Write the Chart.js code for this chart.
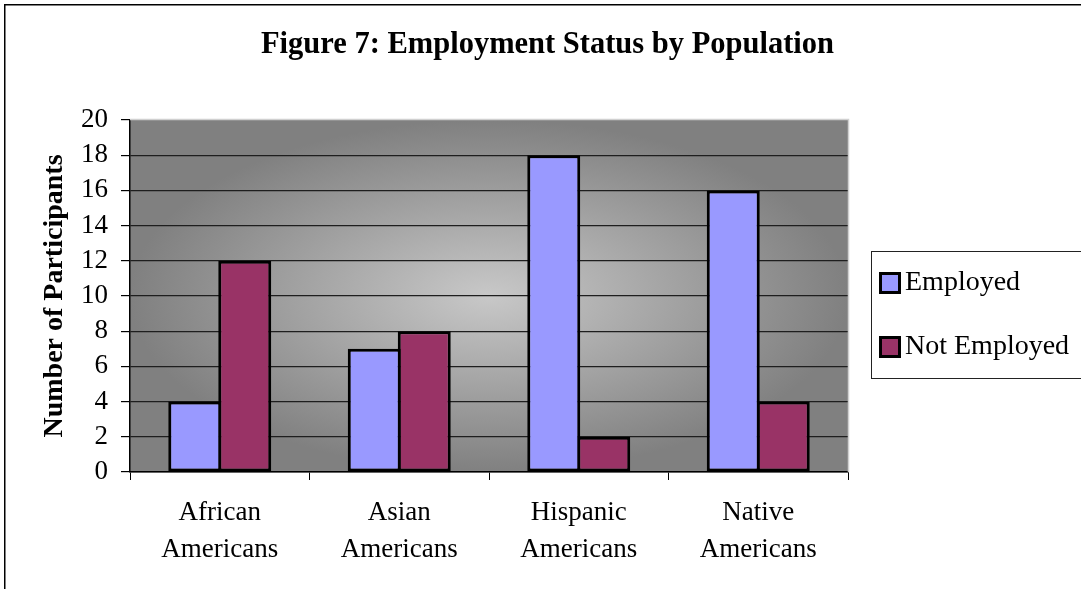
<!DOCTYPE html>
<html>
<head>
<meta charset="utf-8">
<title>Figure 7: Employment Status by Population</title>
<script src="https://cdn.jsdelivr.net/npm/chart.js@4.4.1/dist/chart.umd.min.js"></script>
<style>
  html, body { margin: 0; padding: 0; background: #fff; }
  #wrap { width: 1081px; height: 589px; }
</style>
</head>
<body>
<div id="wrap"><canvas id="empChart" width="1081" height="589"></canvas></div>
<script>
// data
const categories = [['African', 'Americans'], ['Asian', 'Americans'], ['Hispanic', 'Americans'], ['Native', 'Americans']];
const seriesNames = ['Employed', 'Not Employed'];
const employed = [4, 7, 18, 16];
const notEmployed = [12, 8, 2, 4];
const yTicks = [0, 2, 4, 6, 8, 10, 12, 14, 16, 18, 20];
const seriesColors = ['#9999ff', '#993366'];

const serif = '"Liberation Serif", "Times New Roman", serif';

// gray plot background, outer frame and the boxed legend
const chartDecor = {
  id: 'chartDecor',
  beforeDraw(chart) {
    const { ctx, chartArea: a } = chart;
    ctx.save();
    ctx.fillStyle = '#fff';
    ctx.fillRect(0, 0, chart.width, chart.height);
    ctx.translate((a.left + a.right) / 2, (a.top + a.bottom) / 2);
    ctx.scale(a.width / 2, a.height / 2);
    const g = ctx.createRadialGradient(0, 0, 0, 0, 0, 1);
    g.addColorStop(0, '#c8c8c8');
    g.addColorStop(1, '#808080');
    ctx.fillStyle = g;
    ctx.fillRect(-1, -1, 2, 2);
    ctx.restore();

    ctx.save();
    ctx.strokeStyle = '#000';
    ctx.lineWidth = 1.5;
    ctx.strokeRect(4.75, 4.75, chart.width + 20, chart.height + 20);
    ctx.restore();
  },
  afterDraw(chart) {
    const { ctx, chartArea: a } = chart;
    ctx.save();
    ctx.strokeStyle = '#d0d0d0';
    ctx.lineWidth = 1.5;
    ctx.beginPath();
    ctx.moveTo(a.left, a.top - 0.5);
    ctx.lineTo(a.right + 0.5, a.top - 0.5);
    ctx.lineTo(a.right + 0.5, a.bottom);
    ctx.stroke();

    // legend
    ctx.strokeStyle = '#222';
    ctx.lineWidth = 1;
    ctx.strokeRect(871.5, 251.5, 300, 127);
    ctx.font = '28px ' + serif;
    ctx.textBaseline = 'middle';
    ctx.textAlign = 'left';
    chart.data.datasets.forEach((ds, i) => {
      const cy = 283 + i * 64;
      ctx.fillStyle = '#000';
      ctx.fillRect(879, cy - 11, 22, 22);
      ctx.fillStyle = ds.backgroundColor;
      ctx.fillRect(882, cy - 8, 16, 16);
      ctx.fillStyle = '#000';
      ctx.fillText(ds.label, 905, cy);
    });
    ctx.restore();
  }
};

new Chart(document.getElementById('empChart'), {
  type: 'bar',
  data: {
    labels: categories,
    datasets: [
      { label: seriesNames[0], data: employed, backgroundColor: seriesColors[0] },
      { label: seriesNames[1], data: notEmployed, backgroundColor: seriesColors[1] }
    ]
  },
  options: {
    responsive: false,
    animation: false,
    layout: { padding: { top: 0, left: 14, right: 0, bottom: 0 } },
    datasets: {
      bar: {
        borderColor: '#000',
        borderWidth: 3,
        borderSkipped: false,
        categoryPercentage: 0.557,
        barPercentage: 1.06
      }
    },
    plugins: {
      legend: { display: false },
      tooltip: { enabled: false },
      title: {
        display: true,
        text: 'Figure 7: Employment Status by Population',
        color: '#000',
        font: { family: serif, size: 30.5, weight: 'bold', lineHeight: 1.2 },
        padding: { top: 26.9, bottom: 56.5 }
      }
    },
    scales: {
      x: {
        grid: { drawOnChartArea: false, tickLength: 8, tickColor: '#000' },
        border: { color: '#000', width: 1.5 },
        ticks: { color: '#000', padding: 15, font: { family: serif, size: 27, lineHeight: 1.35 } },
        afterFit: s => { s.height = 117; }
      },
      y: {
        min: 0,
        max: 20,
        afterBuildTicks: s => { s.ticks = yTicks.map(v => ({ value: v })); },
        grid: {
          color: c => (c.tick && c.tick.value === 20 ? 'rgba(0,0,0,0)' : '#1e1e1e'),
          tickColor: '#000',
          tickLength: 9,
          lineWidth: 1.2
        },
        border: { color: '#000', width: 1.5 },
        ticks: { color: '#000', padding: 13, autoSkip: false, font: { family: serif, size: 27 } },
        title: {
          display: true,
          text: 'Number of Participants',
          color: '#000',
          font: { family: serif, size: 28, weight: 'bold', lineHeight: 1.2 },
          padding: { top: 23.5, bottom: 0 }
        },
        afterFit: s => { s.width = 116; }
      },
      // empty spacer on the right, keeps room for the legend box
      y2: {
        type: 'linear',
        position: 'right',
        grid: { display: false },
        border: { display: false },
        ticks: { display: false },
        afterFit: s => { s.width = 233; }
      }
    }
  },
  plugins: [chartDecor]
});
</script>
</body>
</html>
